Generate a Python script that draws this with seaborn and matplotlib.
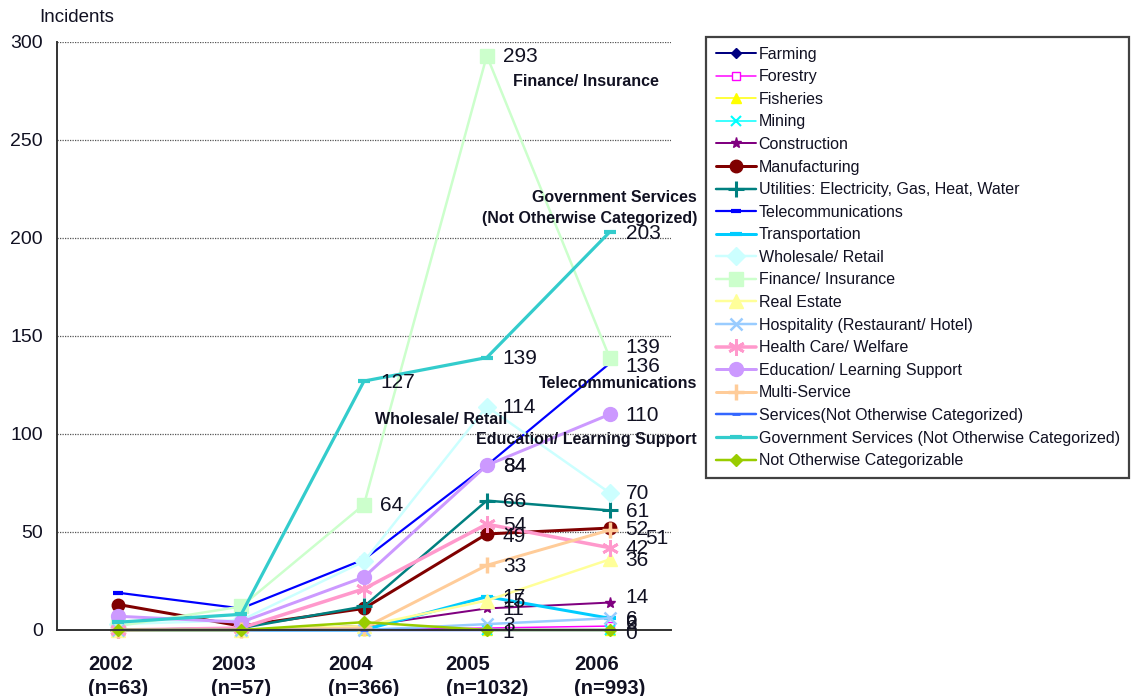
import matplotlib
matplotlib.use("Agg")
import matplotlib.pyplot as plt
import seaborn as sns

# ---- data -------------------------------------------------------------
years = ["2002", "2003", "2004", "2005", "2006"]
incident_totals = [63, 57, 366, 1032, 993]

farming = [0, 0, 0, 0, 0]
forestry = [0, 0, 0, 1, 2]
fisheries = [0, 0, 0, 0, 0]
mining = [0, 0, 0, 0, 0]
construction = [0, 0, 2, 11, 14]
manufacturing = [13, 2, 11, 49, 52]
utilities = [0, 1, 12, 66, 61]
telecom = [19, 11, 36, 84, 136]
transportation = [0, 0, 0, 17, 6]
wholesale = [3, 5, 35, 114, 70]
finance = [2, 12, 64, 293, 139]
real_estate = [0, 0, 2, 15, 36]
hospitality = [0, 0, 0, 3, 6]
health_care = [0, 1, 21, 54, 42]
education = [7, 4, 27, 84, 110]
multi_service = [0, 0, 1, 33, 51]
services_noc = [0, 0, 0, 0, 0]
government = [4, 8, 127, 139, 203]
not_categorizable = [0, 0, 4, 0, 0]

series = [
    ("Farming", farming),
    ("Forestry", forestry),
    ("Fisheries", fisheries),
    ("Mining", mining),
    ("Construction", construction),
    ("Manufacturing", manufacturing),
    ("Utilities: Electricity, Gas, Heat, Water", utilities),
    ("Telecommunications", telecom),
    ("Transportation", transportation),
    ("Wholesale/ Retail", wholesale),
    ("Finance/ Insurance", finance),
    ("Real Estate", real_estate),
    ("Hospitality (Restaurant/ Hotel)", hospitality),
    ("Health Care/ Welfare", health_care),
    ("Education/ Learning Support", education),
    ("Multi-Service", multi_service),
    ("Services(Not Otherwise Categorized)", services_noc),
    ("Government Services (Not Otherwise Categorized)", government),
    ("Not Otherwise Categorizable", not_categorizable),
]

# series whose values are printed next to the points, per year index
labelled = {
    2: ["Government Services (Not Otherwise Categorized)", "Finance/ Insurance"],
    3: ["Finance/ Insurance", "Government Services (Not Otherwise Categorized)",
        "Wholesale/ Retail", "Telecommunications", "Education/ Learning Support",
        "Utilities: Electricity, Gas, Heat, Water", "Health Care/ Welfare",
        "Manufacturing", "Multi-Service", "Transportation", "Real Estate",
        "Construction", "Hospitality (Restaurant/ Hotel)", "Forestry"],
    4: ["Government Services (Not Otherwise Categorized)", "Finance/ Insurance",
        "Telecommunications", "Education/ Learning Support", "Wholesale/ Retail",
        "Utilities: Electricity, Gas, Heat, Water", "Manufacturing", "Multi-Service",
        "Health Care/ Welfare", "Real Estate", "Construction",
        "Hospitality (Restaurant/ Hotel)", "Transportation", "Forestry",
        "Not Otherwise Categorizable"],
}

# ---- styles -------------------------------------------------------------
PX = 0.72  # one pixel in points at 100 dpi
styles = {
    "Farming": dict(color="#000080", marker="D", ms=5, lw=2 * PX),
    "Forestry": dict(color="#FF00FF", marker="s", ms=6, lw=1.5 * PX, mfc="white"),
    "Fisheries": dict(color="#FFFF00", marker="^", ms=7, lw=1.5 * PX),
    "Mining": dict(color="#00FFFF", marker="x", ms=7, lw=1.5 * PX, mew=1.5),
    "Construction": dict(color="#800080", marker="*", ms=8, lw=2 * PX),
    "Manufacturing": dict(color="#800000", marker="o", ms=9, lw=3 * PX),
    "Utilities: Electricity, Gas, Heat, Water": dict(color="#008080", marker="+", ms=11, lw=2.5 * PX, mew=2.2),
    "Telecommunications": dict(color="#0000FF", marker="_", ms=7, lw=2.2 * PX, mew=3),
    "Transportation": dict(color="#00CCFF", marker="_", ms=8, lw=3 * PX, mew=3),
    "Wholesale/ Retail": dict(color="#CCFFFF", marker="D", ms=9, lw=2.5 * PX),
    "Finance/ Insurance": dict(color="#CCFFCC", marker="s", ms=10, lw=2.5 * PX),
    "Real Estate": dict(color="#FFFF99", marker="^", ms=10, lw=2.5 * PX),
    "Hospitality (Restaurant/ Hotel)": dict(color="#99CCFF", marker="x", ms=8, lw=2.5 * PX, mew=1.8),
    "Health Care/ Welfare": dict(color="#FF99CC", marker=(6, 2, 0), ms=12, lw=3.5 * PX, mew=2),
    "Education/ Learning Support": dict(color="#CC99FF", marker="o", ms=10, lw=3 * PX),
    "Multi-Service": dict(color="#FFCC99", marker="+", ms=12, lw=3 * PX, mew=2.5),
    "Services(Not Otherwise Categorized)": dict(color="#3366FF", marker="_", ms=6, lw=2.5 * PX, mew=2),
    "Government Services (Not Otherwise Categorized)": dict(color="#33CCCC", marker="_", ms=9, lw=3.2 * PX, mew=3),
    "Not Otherwise Categorizable": dict(color="#99CC00", marker="D", ms=6, lw=2.5 * PX),
}

# nudges (points) for value labels that would otherwise collide
label_nudge = {
    ("Finance/ Insurance", 4): (0, 7),
    ("Telecommunications", 4): (0, -2),
    ("Multi-Service", 4): (14, -6),
    ("Construction", 4): (0, 3.5),
    ("Transportation", 4): (0, -4),
    ("Forestry", 4): (0, 2),
    ("Not Otherwise Categorizable", 4): (0, -2.5),
    ("Forestry", 3): (0, -3),
    ("Manufacturing", 3): (0, -2),
    ("Real Estate", 3): (0, -1),
}

# ---- figure -------------------------------------------------------------
sns.set_style("white")
plt.rcParams["font.family"] = ["Liberation Sans", "DejaVu Sans"]
INK = "#111122"

fig = plt.figure(figsize=(11.31, 6.96), dpi=100)
ax = fig.add_axes([57 / 1131, 1 - 630 / 696, (671 - 57) / 1131, (630 - 42) / 696])

x = list(range(len(years)))
for name, values in series:
    st = styles[name]
    sns.lineplot(
        x=x, y=values, ax=ax, sort=False, label=name,
        color=st["color"], linewidth=st["lw"],
        marker=st["marker"], markersize=st["ms"],
        markerfacecolor=st.get("mfc", st["color"]),
        markeredgecolor=st["color"],
        markeredgewidth=st.get("mew", 1.0),
        clip_on=False,
    )

ax.set_xlim(-0.5, len(years) - 0.5)
ax.set_ylim(0, 300)
ax.set_yticks(range(0, 301, 50))
ax.yaxis.grid(True, linestyle=(0, (1, 1)), color="#555555", linewidth=0.9)
ax.xaxis.grid(False)
ax.set_axisbelow(True)

for side in ("top", "right"):
    ax.spines[side].set_visible(False)
for side in ("left", "bottom"):
    ax.spines[side].set_color("#333333")
    ax.spines[side].set_linewidth(1.4)

ax.set_xticks(x)
ax.set_xticklabels([f"{y}\n(n={n})" for y, n in zip(years, incident_totals)],
                   fontweight="bold", fontsize=14.5, linespacing=1.3,
                   multialignment="left", color=INK)
ax.set_xticks([i + 0.5 for i in x], minor=True)
ax.tick_params(axis="x", which="major", length=0, pad=18)
ax.tick_params(axis="x", which="minor", direction="in", length=5, width=1.2, color="#333333")
ax.tick_params(axis="y", which="major", direction="in", length=0, pad=10,
               labelsize=14, labelcolor=INK)
ax.set_xlabel("")
ax.set_ylabel("")

fig.text(39 / 1131, 1 - 18 / 696, "Incidents", fontsize=13.5, color=INK,
         ha="left", va="center")

# value labels next to points
values_by_name = dict(series)
for xi, names in labelled.items():
    for name in names:
        v = values_by_name[name][xi]
        dx, dy = label_nudge.get((name, xi), (0, -0.8))
        ax.annotate(str(v), (xi, v), xytext=(11.5 + dx, dy), textcoords="offset points",
                    ha="left", va="center", fontsize=15, color=INK,
                    annotation_clip=False, zorder=10)

# series names written on the plot
name_kw = dict(fontsize=11.5, fontweight="bold", color=INK, zorder=10)
fig.text(513 / 1131, 1 - 82 / 696, "Finance/ Insurance", ha="left", va="center", **name_kw)
fig.text(697 / 1131, 1 - 197 / 696, "Government Services", ha="right", va="center", **name_kw)
fig.text(697 / 1131, 1 - 218 / 696, "(Not Otherwise Categorized)", ha="right", va="center", **name_kw)
fig.text(697 / 1131, 1 - 383 / 696, "Telecommunications", ha="right", va="center", **name_kw)
fig.text(375 / 1131, 1 - 420 / 696, "Wholesale/ Retail", ha="left", va="center", **name_kw)
fig.text(697 / 1131, 1 - 439 / 696, "Education/ Learning Support", ha="right", va="center", **name_kw)

# legend on the right
handles, labels = ax.get_legend_handles_labels()
if ax.get_legend() is not None:
    ax.get_legend().remove()
leg = fig.legend(handles, labels, loc="upper left",
                 bbox_to_anchor=(706 / 1131, 1 - 37 / 696),
                 frameon=True, fancybox=False, fontsize=11.5,
                 handlelength=2.5, handletextpad=0.2, labelspacing=0.475,
                 borderpad=0.6, borderaxespad=0, numpoints=1,
                 labelcolor=INK)
leg.get_frame().set_edgecolor("#111111")
leg.get_frame().set_linewidth(1.6)

fig.savefig("out.png", dpi=100)
